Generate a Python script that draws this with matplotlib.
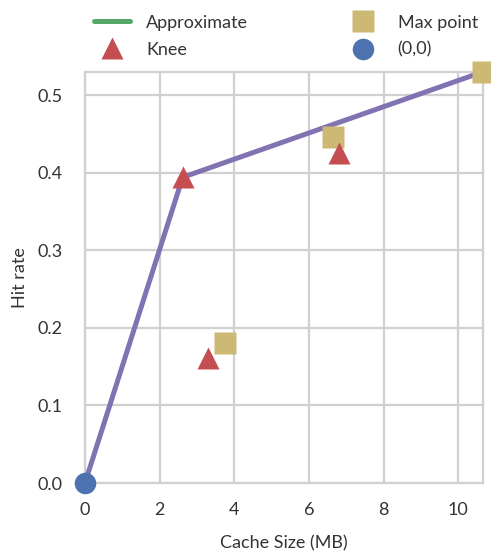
import matplotlib
matplotlib.use("Agg")
import matplotlib.pyplot as plt
from matplotlib.lines import Line2D

# Piecewise-linear approximation of the hit-rate curve
approx_x = [0.0, 2.62, 10.67]
approx_y = [0.0, 0.394, 0.530]

# Detected knee points
knee_x = [2.62, 3.30, 6.80]
knee_y = [0.394, 0.161, 0.425]

# Maximum points
max_x = [3.75, 6.65, 10.67]
max_y = [0.180, 0.446, 0.530]

# Origin
origin_x = [0.0]
origin_y = [0.0]

x_ticks = [0, 2, 4, 6, 8, 10]
y_ticks = [0.0, 0.1, 0.2, 0.3, 0.4, 0.5]

blue = "#4C72B0"
green = "#55A868"
red = "#C44E52"
purple = "#8172B2"
gold = "#CCB974"
grid_c = "#d0d0d0"
text_c = "#333333"

plt.rcParams["font.family"] = ["Lato", "DejaVu Sans"]

fig = plt.figure(figsize=(4.91, 5.52), dpi=100)
ax = fig.add_axes([0.173, 0.125, 0.811, 0.745])

ax.plot(approx_x, approx_y, color=purple, lw=3.6, solid_capstyle="butt", zorder=3)
ax.plot(max_x, max_y, ls="none", marker="s", ms=15.5, color=gold, mec="none",
        zorder=4, clip_on=False)
ax.plot(knee_x, knee_y, ls="none", marker="^", ms=15.5, color=red, mec="none",
        zorder=5, clip_on=False)
ax.plot(origin_x, origin_y, ls="none", marker="o", ms=15.5, color=blue, mec="none",
        zorder=6, clip_on=False)

ax.set_xlim(0, 10.67)
ax.set_ylim(0, 0.530)
ax.set_xticks(x_ticks)
ax.set_yticks(y_ticks)
ax.set_yticklabels([f"{v:.1f}" for v in y_ticks])
ax.tick_params(length=0, labelsize=13, colors=text_c)
ax.tick_params(axis="x", pad=14)
ax.tick_params(axis="y", pad=16)
ax.grid(True, color=grid_c, lw=1.6)
ax.set_axisbelow(True)
for s in ax.spines.values():
    s.set_color(grid_c)
    s.set_linewidth(1.6)

ax.set_xlabel("Cache Size (MB)", fontsize=13, color=text_c, labelpad=12)
ax.set_ylabel("Hit rate", fontsize=13, color=text_c, labelpad=7)

handles = [
    Line2D([], [], color=green, lw=3.6, solid_capstyle="round"),
    Line2D([], [], ls="none", marker="^", ms=15.5, color=red, mec="none"),
    Line2D([], [], ls="none", marker="s", ms=15.5, color=gold, mec="none"),
    Line2D([], [], ls="none", marker="o", ms=15.5, color=blue, mec="none"),
]
labels = ["Approximate", "Knee", "Max point", "(0,0)"]
fig.legend(handles, labels, ncol=2, loc="upper center", bbox_to_anchor=(0.582, 1.003),
           frameon=False, fontsize=13, handlelength=2.0, columnspacing=5.4,
           handletextpad=0.9, labelspacing=0.62, labelcolor=text_c)

fig.savefig("out.png", dpi=100, facecolor="white")
